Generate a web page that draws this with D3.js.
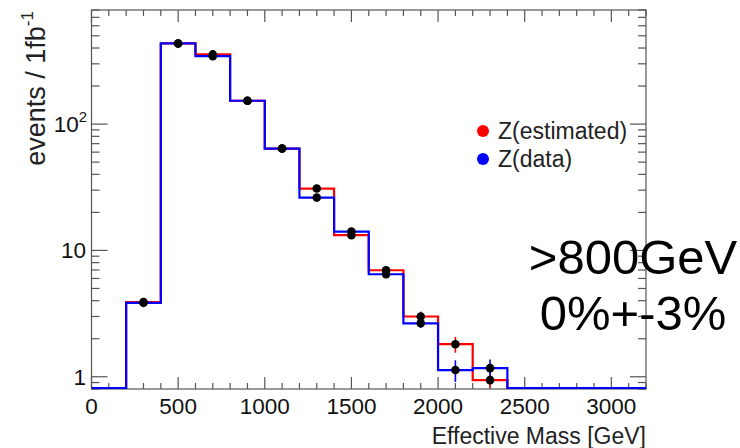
<!DOCTYPE html>
<html><head><meta charset="utf-8">
<script src="https://cdn.jsdelivr.net/npm/d3@7"></script>
<style>
html,body{margin:0;padding:0;background:#fff;}
svg{display:block;font-family:"Liberation Sans",Arial,sans-serif;}
</style></head>
<body><svg id="c" width="740" height="448"></svg>
<script>
// ---- data ----
const binCenters = [300, 500, 700, 900, 1100, 1300, 1500, 1700, 1900, 2100, 2300];
const binWidth = 200;
const estimated = [3.9, 435, 356, 153, 64, 30.9, 13.2, 6.97, 3.0, 1.81, 0.94];
const estimatedErr = [0.3, 8, 7, 4, 2, 1.2, 0.7, 0.4, 0.28, 0.26, 0.12];
const observed = [3.85, 435, 345, 153, 64, 26.2, 14.1, 6.48, 2.65, 1.13, 1.17];
const observedErr = [0.3, 8, 7, 4, 2, 1.0, 0.7, 0.4, 0.22, 0.22, 0.2];
const xTicks = [0, 500, 1000, 1500, 2000, 2500, 3000];
const seriesNames = ["Z(estimated)", "Z(data)"];
const seriesColors = ["#ff0000", "#0000ff"];
const annotation = [">800GeV", "0%+-3%"];

const svg = d3.select("#c");
const L = 91.5, R = 646, T = 10, B = 389;
const x = d3.scaleLinear().domain([0, 3200]).range([L, R]);
const y = d3.scaleLog().domain([0.8, 800]).range([B, T]);
const axisCol = "#555";

svg.append("defs").append("clipPath").attr("id","clip")
  .append("rect").attr("x",L).attr("y",T).attr("width",R-L).attr("height",B-T);

// frame
svg.append("rect").attr("x",L).attr("y",T).attr("width",R-L).attr("height",B-T)
  .attr("fill","none").attr("stroke",axisCol).attr("stroke-width",1.2);

// x ticks (bottom & top, inward)
const xMinor = d3.range(0, 3201, 100);
xMinor.forEach(v => {
  const major = v % 500 === 0;
  const len = major ? 12 : 6;
  svg.append("line").attr("x1",x(v)).attr("x2",x(v)).attr("y1",B).attr("y2",B-len)
    .attr("stroke",axisCol).attr("stroke-width",1.2);
  svg.append("line").attr("x1",x(v)).attr("x2",x(v)).attr("y1",T).attr("y2",T+len)
    .attr("stroke",axisCol).attr("stroke-width",1.2);
});
// y ticks (left & right, inward)
const yTickVals = [0.8,0.9,1,2,3,4,5,6,7,8,9,10,20,30,40,50,60,70,80,90,100,200,300,400,500,600,700,800];
yTickVals.forEach(v => {
  const major = (v === 1 || v === 10 || v === 100);
  const len = major ? 16 : 8;
  svg.append("line").attr("x1",L).attr("x2",L+len).attr("y1",y(v)).attr("y2",y(v))
    .attr("stroke",axisCol).attr("stroke-width",1.2);
  svg.append("line").attr("x1",R).attr("x2",R-len).attr("y1",y(v)).attr("y2",y(v))
    .attr("stroke",axisCol).attr("stroke-width",1.2);
});

// x tick labels
svg.selectAll(".xl").data(xTicks).enter().append("text")
  .attr("x", d => x(d)).attr("y", 414).attr("text-anchor","middle")
  .attr("font-size", 22.5).attr("fill","#111").text(d => d);
// y tick labels
svg.append("text").attr("x",86).attr("y",y(1)+8).attr("text-anchor","end")
  .attr("font-size",22.5).attr("fill","#111").text("1");
svg.append("text").attr("x",86).attr("y",y(10)+8).attr("text-anchor","end")
  .attr("font-size",22.5).attr("fill","#111").text("10");
const t100 = svg.append("text").attr("x",87).attr("y",y(100)+8).attr("text-anchor","end")
  .attr("font-size",22.5).attr("fill","#111");
t100.append("tspan").text("10");
t100.append("tspan").attr("font-size",15).attr("dy",-10).text("2");

// axis titles
svg.append("text").attr("x",R).attr("y",444).attr("text-anchor","end")
  .attr("font-size",23).attr("fill","#222").text("Effective Mass [GeV]");
const yt = svg.append("text").attr("transform","translate(45,11) rotate(-90)")
  .attr("text-anchor","end").attr("font-size",27).attr("fill","#222");
yt.append("tspan").text("events / 1fb");
yt.append("tspan").attr("font-size",17).attr("dy",-12).text("-1");

// histograms
const edges = d3.range(0, 3201, binWidth);
function binValue(series, lo) {
  const i = binCenters.indexOf(lo + binWidth/2);
  return i >= 0 ? series[i] : 0;
}
const g = svg.append("g").attr("clip-path","url(#clip)");
[estimated, observed].forEach((series, si) => {
  const pts = edges.map(e => [e, e < 3200 ? binValue(series, e) : binValue(series, e - binWidth)]);
  const line = d3.line().x(d => x(d[0])).y(d => d[1] > 0 ? y(d[1]) : B - 1)
    .curve(d3.curveStepAfter);
  g.append("path").attr("d", line(pts)).attr("fill","none")
    .attr("stroke", seriesColors[si]).attr("stroke-width", 2.2);
});
// error bars and markers
[[estimated, estimatedErr], [observed, observedErr]].forEach(([series, err], si) => {
  binCenters.forEach((c, i) => {
    g.append("line").attr("x1", x(c)).attr("x2", x(c))
      .attr("y1", y(Math.max(series[i] - err[i], 0.8))).attr("y2", y(series[i] + err[i]))
      .attr("stroke", seriesColors[si]).attr("stroke-width", 1.6);
  });
});
[estimated, observed].forEach(series => {
  binCenters.forEach((c, i) => {
    g.append("circle").attr("cx", x(c)).attr("cy", y(series[i])).attr("r", 4.3).attr("fill","#000");
  });
});

// legend
seriesNames.forEach((n, i) => {
  svg.append("circle").attr("cx",483).attr("cy",131 + i*28).attr("r",6).attr("fill",seriesColors[i]);
  svg.append("text").attr("x",498).attr("y",131 + i*28 + 8).attr("font-size",23)
    .attr("fill","#222").text(n);
});

// annotation
annotation.forEach((t, i) => {
  svg.append("text").attr("x",633).attr("y",274 + i*56).attr("text-anchor","middle")
    .attr("font-size",49).attr("fill","#000").text(t);
});
</script></body></html>
